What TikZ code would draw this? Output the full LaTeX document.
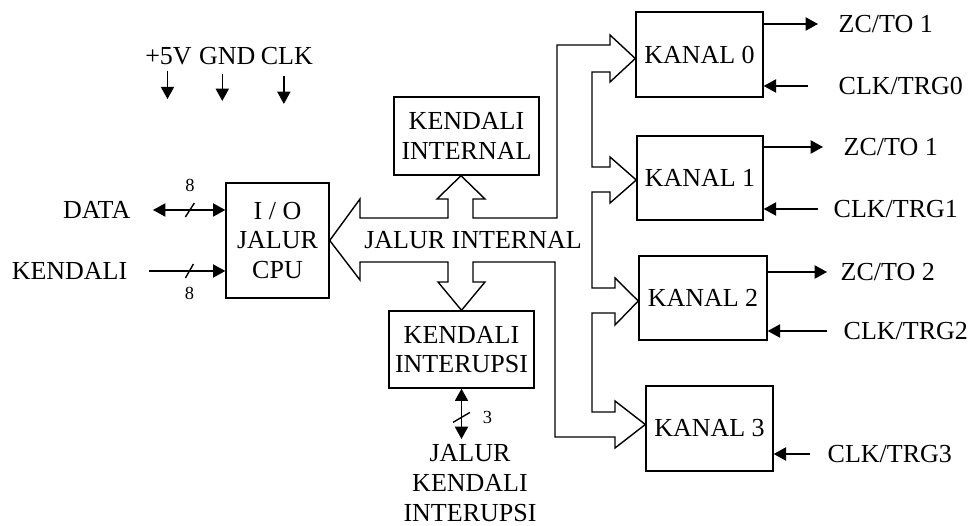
\documentclass[tikz,border=0pt]{standalone}
\usepackage{fontspec}
\setmainfont{Liberation Serif}
\usetikzlibrary{positioning,arrows.meta}

\begin{document}
\begin{tikzpicture}[x=0.02cm, y=-0.02cm, node distance=0.4cm,
  font=\fontsize{14.8}{17}\selectfont, line width=0.8pt,
  Blok/.style 2 args={draw, inner sep=0pt, align=center,
                minimum width=#1*0.02cm, minimum height=#2*0.02cm},
  Label/.style={inner sep=0pt, align=center},
  Bit/.style={inner sep=0pt, font=\fontsize{10.5}{12}\selectfont},
  Dot/.style={inner sep=0pt, minimum size=0pt},
  Sig/.style={-{Triangle[length=7pt,width=7.5pt]}},
  DSig/.style={{Triangle[length=7pt,width=7.5pt]}-{Triangle[length=7pt,width=7.5pt]}},]
\useasboundingbox (0,0) rectangle (971,526);

% blocks
\node [Blok={103}{115}] (io) at (277.5,240.5) {I / O\\JALUR\\CPU};
\node [Blok={145}{78}] (kint) at (466.5,136) {KENDALI\\INTERNAL};
\node [Blok={145}{77}] (kirq) at (461.5,349.5) {KENDALI\\INTERUPSI};
\node [Blok={127}{85}] (k0) at (699.5,54.5) {KANAL 0};
\node [Blok={126}{84}] (k1) at (700,178) {KANAL 1};
\node [Blok={128}{84}] (k2) at (703,298) {KANAL 2};
\node [Blok={127}{85}] (k3) at (709.5,428.5) {KANAL 3};

% internal bus
\draw (io.east) -- (360,199) -- (360,218) -- (448,218) -- (448,199) -- (437,199)
  -- (461,0 |- kint.south) -- (485,199) -- (473,199) -- (473,218)
  -- (557,218) -- (557,45) -- (610,45) -- (610,35) -- (k0.west |- 0,58.5)
  -- (610,82) -- (610,72) -- (592,72) -- (592,167) -- (610,167) -- (610,157)
  -- (k1.west |- 0,180) -- (610,203) -- (610,192) -- (592,192) -- (592,288)
  -- (615,288) -- (615,278) -- (k2.west |- 0,301) -- (615,325) -- (615,313)
  -- (592,313) -- (592,412) -- (615,412) -- (615,401) -- (k3.west |- 0,424.5)
  -- (615,448) -- (615,437) -- (555,437) -- (555,262) -- (473,262) -- (473,282)
  -- (485,282) -- (kirq.north) -- (438,282) -- (448,282) -- (448,262)
  -- (360,262) -- (360,280) -- cycle;
\node [Label] (jint) at (473,240) {JALUR INTERNAL};

% supply pins
\node [Label, anchor=base] (v5) at (168.5,65) {+5V};
\node [Label, base right=0.12cm of v5] (gnd) {GND};
\node [Label, base right=0.08cm of gnd] (clk) {CLK};
\draw [Sig] (v5.south) ++(-1,5) -- ++(0,28);
\draw [Sig] (gnd.south) ++(-5,8) -- ++(0,27);
\draw [Sig] (clk.south) ++(-3,10) -- ++(0,28);

% cpu side
\coordinate (dataend) at (153,210);
\draw [DSig] (dataend) -- node[Dot, pos=0.51] (s8a) {} (dataend -| io.west);
\draw (s8a.center) +(-4.5,7) -- +(4.5,-7);
\node [Bit, above=0.34cm of s8a] {8};
\node [Label, left=0.44cm of dataend] {DATA};

\coordinate (ctlend) at (149,271);
\draw [Sig] (ctlend) -- node[Dot, pos=0.53] (s8b) {} (ctlend -| io.west);
\draw (s8b.center) +(-4,7) -- +(4,-7);
\node [Bit, below=0.3cm of s8b] {8};
\node [Label, left=0.42cm of ctlend] {KENDALI};

% interrupt lines
\coordinate (irqend) at (kirq.south |- 0,439);
\draw [DSig] (kirq.south) -- node[Dot, pos=0.57] (s3) {} (irqend);
\draw (s3.center) +(-8.5,5) -- +(8.5,-5);
\node [Bit, right=0.4cm of s3] {3};
\node [Label, below=0.1cm of irqend, xshift=0.17cm] {JALUR\\KENDALI\\INTERUPSI};

% counter channels
\coordinate (zc0) at (818,24);
\draw [Sig] (k0.east |- zc0) -- (zc0);
\node [Label, right=0.4cm of zc0] {ZC/TO 1};
\coordinate (trg0) at (808,86);
\draw [Sig] (trg0) -- (k0.east |- trg0);
\node [Label, right=0.6cm of trg0] {CLK/TRG0};

\coordinate (zc1) at (823,147);
\draw [Sig] (k1.east |- zc1) -- (zc1);
\node [Label, right=0.4cm of zc1] {ZC/TO 1};
\coordinate (trg1) at (818,209);
\draw [Sig] (trg1) -- (k1.east |- trg1);
\node [Label, right=0.3cm of trg1] {CLK/TRG1};

\coordinate (zc2) at (827,272);
\draw [Sig] (k2.east |- zc2) -- (zc2);
\node [Label, right=0.26cm of zc2] {ZC/TO 2};
\coordinate (trg2) at (827,331);
\draw [Sig] (trg2) -- (k2.east |- trg2);
\node [Label, right=0.32cm of trg2] {CLK/TRG2};

\coordinate (trg3) at (810,454);
\draw [Sig] (trg3) -- (k3.east |- trg3);
\node [Label, right=0.34cm of trg3] {CLK/TRG3};
\end{tikzpicture}
\end{document}
